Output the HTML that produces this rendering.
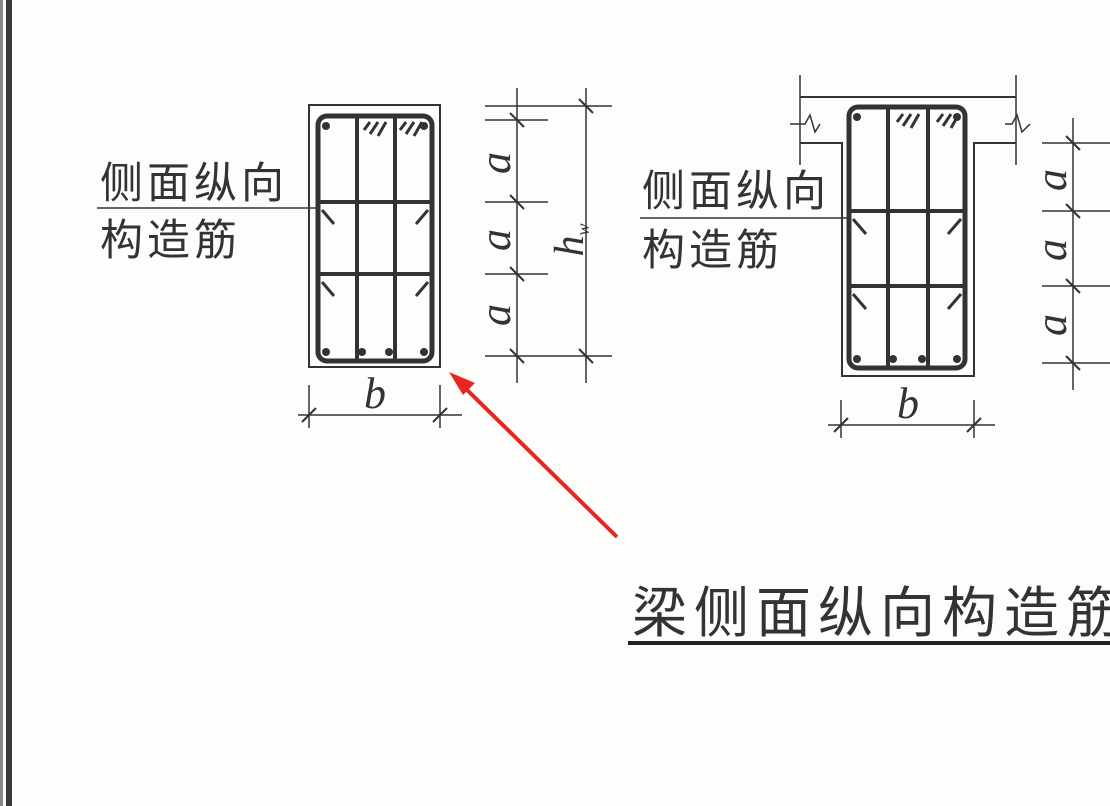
<!DOCTYPE html>
<html><head><meta charset="utf-8"><style>
html,body{margin:0;padding:0;background:#fff;}
svg{display:block}
text{font-family:"Liberation Sans","Noto Sans CJK SC",sans-serif;fill:#333}
.it{font-family:"Liberation Serif",serif;font-style:italic;fill:#333}
</style></head><body>
<svg width="1110" height="806" viewBox="0 0 1110 806" xmlns="http://www.w3.org/2000/svg">
<rect width="1110" height="806" fill="#fdfdfc"/>
<rect x="6" y="0" width="6" height="806" fill="#3a3a3a"/>
<rect x="0" y="0" width="3" height="806" fill="#888"/>

<g stroke="#333" fill="none">
<rect x="309" y="105" width="131" height="262" stroke-width="2"/>
<rect x="318" y="116" width="114" height="245" rx="9" stroke-width="5"/>
<line x1="357" y1="116" x2="357" y2="361" stroke-width="4"/>
<line x1="395" y1="116" x2="395" y2="361" stroke-width="4"/>
<line x1="318" y1="202" x2="432" y2="202" stroke-width="4"/>
<line x1="318" y1="274" x2="432" y2="274" stroke-width="4"/>
<g stroke-width="3">
<line x1="322" y1="210" x2="334" y2="224"/><line x1="428" y1="210" x2="416" y2="224"/>
<line x1="322" y1="282" x2="334" y2="296"/><line x1="428" y1="282" x2="416" y2="296"/>
<line x1="370" y1="122" x2="364" y2="130"/><line x1="378" y1="122" x2="370" y2="134"/><line x1="386" y1="122" x2="378" y2="136"/>
<line x1="406" y1="122" x2="400" y2="130"/><line x1="414" y1="122" x2="406" y2="134"/><line x1="422" y1="122" x2="414" y2="136"/>
</g>
<g stroke-width="1.5">
<line x1="517" y1="88" x2="517" y2="383"/><line x1="586" y1="88" x2="586" y2="383"/>
<line x1="485" y1="106" x2="612" y2="106"/><line x1="485" y1="120" x2="548" y2="120"/>
<line x1="485" y1="202" x2="548" y2="202"/><line x1="485" y1="274" x2="548" y2="274"/>
<line x1="485" y1="356" x2="612" y2="356"/>
<line x1="298" y1="415" x2="462" y2="415"/>
<line x1="309" y1="385" x2="309" y2="428"/><line x1="440" y1="385" x2="440" y2="428"/>
</g>
<g stroke-width="2">
<line x1="510" y1="113" x2="524" y2="127"/><line x1="510" y1="195" x2="524" y2="209"/>
<line x1="510" y1="267" x2="524" y2="281"/><line x1="510" y1="349" x2="524" y2="363"/>
<line x1="579" y1="99" x2="593" y2="113"/><line x1="579" y1="349" x2="593" y2="363"/>
<line x1="302" y1="422" x2="316" y2="408"/><line x1="433" y1="422" x2="447" y2="408"/>
</g>
<line x1="97" y1="208" x2="318" y2="208" stroke-width="1.5"/>

<line x1="800" y1="97" x2="1016" y2="97" stroke-width="2"/>
<line x1="800" y1="75" x2="800" y2="165" stroke-width="1.5"/>
<line x1="1016" y1="75" x2="1016" y2="165" stroke-width="1.5"/>
<polyline points="790,124 805,124 810,115 815,132 820,124" stroke-width="1.5"/>
<polyline points="1005,124 1012,124 1017,115 1022,132 1030,124" stroke-width="1.5"/>
<polyline points="800,143 842,143 842,376 974,376 974,143 1016,143" stroke-width="2"/>
<rect x="849" y="107" width="116" height="261" rx="9" stroke-width="5"/>
<line x1="888" y1="107" x2="888" y2="368" stroke-width="4"/>
<line x1="928" y1="107" x2="928" y2="368" stroke-width="4"/>
<line x1="849" y1="211" x2="965" y2="211" stroke-width="4"/>
<line x1="849" y1="286" x2="965" y2="286" stroke-width="4"/>
<g stroke-width="3">
<line x1="853" y1="219" x2="866" y2="234"/><line x1="961" y1="219" x2="948" y2="234"/>
<line x1="853" y1="294" x2="866" y2="309"/><line x1="961" y1="294" x2="948" y2="309"/>
<line x1="903" y1="114" x2="897" y2="122"/><line x1="911" y1="114" x2="903" y2="126"/><line x1="919" y1="114" x2="911" y2="128"/>
<line x1="943" y1="114" x2="937" y2="122"/><line x1="951" y1="114" x2="943" y2="126"/><line x1="959" y1="114" x2="951" y2="128"/>
</g>
<g stroke-width="1.5">
<line x1="1073" y1="118" x2="1073" y2="390"/>
<line x1="1042" y1="143" x2="1110" y2="143"/><line x1="1042" y1="211" x2="1110" y2="211"/>
<line x1="1042" y1="286" x2="1110" y2="286"/><line x1="1042" y1="363" x2="1110" y2="363"/>
<line x1="828" y1="425" x2="995" y2="425"/>
<line x1="841" y1="400" x2="841" y2="438"/><line x1="974" y1="400" x2="974" y2="438"/>
<line x1="640" y1="218" x2="850" y2="218"/>
</g>
<g stroke-width="2">
<line x1="1066" y1="136" x2="1080" y2="150"/><line x1="1066" y1="204" x2="1080" y2="218"/>
<line x1="1066" y1="279" x2="1080" y2="293"/><line x1="1066" y1="356" x2="1080" y2="370"/>
<line x1="834" y1="432" x2="848" y2="418"/><line x1="967" y1="432" x2="981" y2="418"/>
</g>
</g>
<g fill="#333">
<circle cx="326" cy="126" r="4"/><circle cx="326" cy="352" r="4"/><circle cx="362" cy="352" r="4"/><circle cx="389" cy="352" r="4"/><circle cx="424" cy="352" r="4"/><circle cx="424" cy="126" r="4"/>
<circle cx="857" cy="117" r="4"/><circle cx="857" cy="359" r="4"/><circle cx="893" cy="359" r="4"/><circle cx="922" cy="359" r="4"/><circle cx="957" cy="359" r="4"/><circle cx="957" cy="117" r="4"/>
</g>

<text x="100" y="198" font-size="43" letter-spacing="4">侧面纵向</text>
<text x="100" y="255" font-size="43" letter-spacing="4">构造筋</text>
<text x="642" y="206" font-size="43" letter-spacing="4">侧面纵向</text>
<text x="642" y="265" font-size="43" letter-spacing="4">构造筋</text>
<g class="it" font-size="44">
<text class="it" transform="translate(510,163) rotate(-90)" text-anchor="middle">a</text>
<text class="it" transform="translate(510,240) rotate(-90)" text-anchor="middle">a</text>
<text class="it" transform="translate(510,315) rotate(-90)" text-anchor="middle">a</text>
<text class="it" transform="translate(583,240) rotate(-90)" text-anchor="middle" font-size="42">h<tspan font-size="18" dy="6">w</tspan></text>
<text class="it" transform="translate(1066,180) rotate(-90)" text-anchor="middle">a</text>
<text class="it" transform="translate(1066,250) rotate(-90)" text-anchor="middle">a</text>
<text class="it" transform="translate(1066,325) rotate(-90)" text-anchor="middle">a</text>
<text class="it" x="375" y="408" text-anchor="middle">b</text>
<text class="it" x="908" y="418" text-anchor="middle">b</text>
</g>
<text x="632" y="632" font-size="55" letter-spacing="7">梁侧面纵向构造筋</text>
<rect x="628" y="641" width="482" height="4" fill="#222"/>

<line x1="617" y1="537" x2="460" y2="383" stroke="#e8261f" stroke-width="4"/>
<polygon points="449,372 475,383 463,395" fill="#e8261f"/>
</svg>
</body></html>
